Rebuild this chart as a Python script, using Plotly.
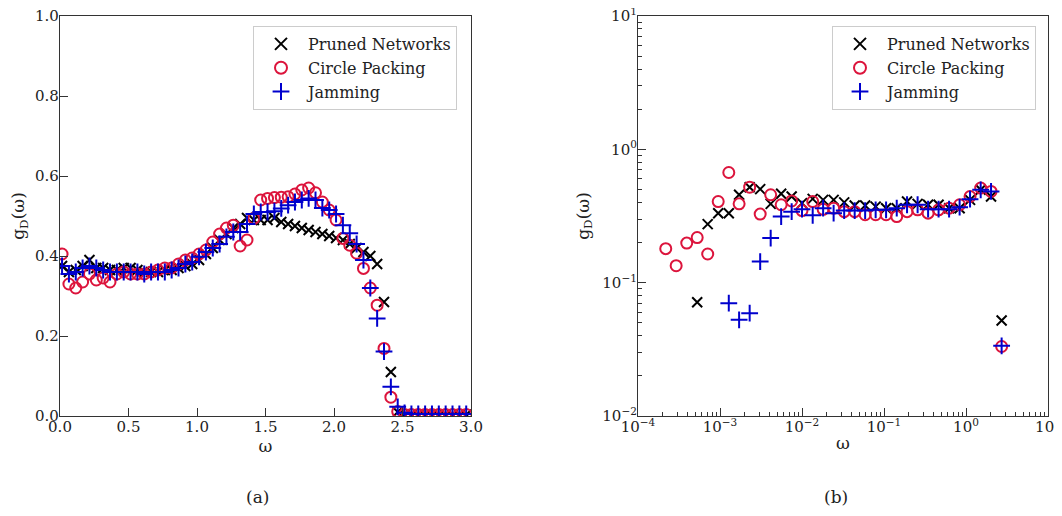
import plotly.graph_objects as go

# ---------------- data: panel (a), linear scale ----------------
omega_a = [0.015, 0.065, 0.115, 0.165, 0.215, 0.265, 0.315, 0.365, 0.415, 0.465,
           0.515, 0.565, 0.615, 0.665, 0.715, 0.765, 0.815, 0.865, 0.915, 0.965,
           1.015, 1.065, 1.115, 1.165, 1.215, 1.265, 1.315, 1.365, 1.415, 1.465,
           1.515, 1.565, 1.615, 1.665, 1.715, 1.765, 1.815, 1.865, 1.915, 1.965,
           2.015, 2.065, 2.115, 2.165, 2.215, 2.265, 2.315, 2.365, 2.415, 2.465,
           2.515, 2.565, 2.615, 2.665, 2.715, 2.765, 2.815, 2.865, 2.915, 2.965]

pruned_a = [0.375, 0.36, 0.365, 0.375, 0.39, 0.37, 0.37, 0.365, 0.365, 0.37,
            0.37, 0.365, 0.36, 0.36, 0.36, 0.365, 0.365, 0.37, 0.375, 0.38,
            0.39, 0.405, 0.42, 0.44, 0.455, 0.47, 0.48, 0.495, 0.49, 0.49,
            0.49, 0.495, 0.485, 0.48, 0.475, 0.47, 0.465, 0.46, 0.455, 0.45,
            0.445, 0.44, 0.43, 0.42, 0.41, 0.40, 0.38, 0.285, 0.11, 0.01,
            0.003, 0.003, 0.003, 0.003, 0.003, 0.003, 0.003, 0.003, 0.003, 0.003]

circle_a = [0.405, 0.33, 0.32, 0.335, 0.355, 0.34, 0.345, 0.335, 0.355, 0.36,
            0.355, 0.355, 0.355, 0.36, 0.365, 0.37, 0.37, 0.38, 0.39, 0.395,
            0.405, 0.415, 0.435, 0.455, 0.47, 0.477, 0.425, 0.44, 0.494, 0.54,
            0.544, 0.546, 0.547, 0.548, 0.555, 0.565, 0.57, 0.558, 0.535, 0.515,
            0.49, 0.444, 0.427, 0.407, 0.369, 0.32, 0.277, 0.169, 0.047, 0.011,
            0.004, 0.004, 0.004, 0.004, 0.004, 0.004, 0.004, 0.004, 0.004, 0.004]

jamming_a = [0.375, 0.355, 0.36, 0.37, 0.375, 0.37, 0.365, 0.36, 0.36, 0.36,
             0.36, 0.36, 0.355, 0.36, 0.36, 0.36, 0.365, 0.37, 0.38, 0.385,
             0.398, 0.41, 0.42, 0.43, 0.448, 0.46, 0.46, 0.48, 0.505, 0.51,
             0.51, 0.512, 0.519, 0.527, 0.535, 0.54, 0.544, 0.54, 0.52, 0.515,
             0.505, 0.477, 0.457, 0.43, 0.39, 0.32, 0.244, 0.161, 0.073, 0.023,
             0.008, 0.005, 0.005, 0.005, 0.005, 0.005, 0.005, 0.005, 0.005, 0.005]

# ---------------- data: panel (b), log-log scale ----------------
omega_b = [2.18e-4, 2.92e-4, 3.93e-4, 5.27e-4, 7.08e-4, 9.51e-4, 1.28e-3, 1.71e-3,
           2.30e-3, 3.09e-3, 4.15e-3, 5.57e-3, 7.48e-3, 1.00e-2, 1.35e-2, 1.81e-2,
           2.43e-2, 3.27e-2, 4.39e-2, 5.89e-2, 7.91e-2, 0.106, 0.143, 0.191,
           0.257, 0.345, 0.463, 0.622, 0.836, 1.12, 1.51, 2.02, 2.72]

pruned_b = [None, None, None, 0.0714, 0.275, 0.332, 0.332, 0.456,
            0.52, 0.503, 0.39, 0.464, 0.443, 0.395, 0.425, 0.418,
            0.418, 0.40, 0.379, 0.379, 0.372, 0.362, 0.362, 0.406,
            0.39, 0.384, 0.384, 0.362, 0.362, 0.418, 0.497, 0.443, 0.052]

circle_b = [0.18, 0.134, 0.198, 0.218, 0.164, 0.406, 0.67, 0.39,
            0.52, 0.327, 0.456, 0.384, 0.41, 0.347, 0.406, 0.355,
            0.362, 0.341, 0.341, 0.323, 0.323, 0.323, 0.313, 0.341,
            0.352, 0.332, 0.352, 0.362, 0.384, 0.443, 0.512, 0.483, 0.0332]

jamming_b = [None, None, None, None, None, None, 0.0702, 0.0526,
             0.059, 0.144, 0.216, 0.313, 0.341, 0.356, 0.32, 0.362,
             0.332, 0.347, 0.347, 0.347, 0.352, 0.352, 0.362, 0.384,
             0.384, 0.356, 0.356, 0.356, 0.368, 0.423, 0.497, 0.483, 0.0336]

series_names = ["Pruned Networks", "Circle Packing", "Jamming"]
log_ticks_x = ["10<sup>−4</sup>", "10<sup>−3</sup>", "10<sup>−2</sup>",
               "10<sup>−1</sup>", "10<sup>0</sup>", "10<sup>1</sup>"]
log_ticks_y = ["10<sup>−2</sup>", "10<sup>−1</sup>", "10<sup>0</sup>", "10<sup>1</sup>"]

# ---------------- styling ----------------
FONT = "DejaVu Serif"
BLACK = "#000000"
RED = "#DC143C"
BLUE = "#0000CD"

styles = [
    dict(symbol="x-thin", size=10, line=dict(color=BLACK, width=2), color=BLACK),
    dict(symbol="circle-open", size=11, line=dict(color=RED, width=2), color=RED),
    dict(symbol="cross-thin", size=12, line=dict(color=BLUE, width=2), color=BLUE),
]

fig = go.Figure()

for name, ys, st in zip(series_names, [pruned_a, circle_a, jamming_a], styles):
    fig.add_trace(go.Scatter(x=omega_a, y=ys, mode="markers", name=name,
                             marker=st, xaxis="x", yaxis="y", legend="legend"))

for name, ys, st in zip(series_names, [pruned_b, circle_b, jamming_b], styles):
    fig.add_trace(go.Scatter(x=omega_b, y=ys, mode="markers", name=name,
                             marker=st, xaxis="x2", yaxis="y2", legend="legend2"))

# page body has an 8px margin; the figure is sized to fit inside it
OFF = 8
W, H = 1046, 500
ml, mt = 60 - OFF, 16 - OFF
mb = H - (416 - OFF)
mr = W - (1048 - OFF)
pw = W - ml - mr
ph = H - mt - mb

axis_common = dict(showline=True, mirror=True, linecolor="#333333", linewidth=1.2,
                   ticks="inside", ticklen=8, tickwidth=1.2, tickcolor="#333333",
                   showgrid=False, zeroline=False, automargin=False,
                   ticklabelstandoff=-3, ticklabeloverflow="allow",
                   tickfont=dict(family=FONT, size=15, color="#222222"))

minor_x = [m * 10.0 ** e for e in range(-4, 1) for m in range(2, 10)]
minor_y = [m * 10.0 ** e for e in range(-2, 1) for m in range(2, 10)]

legend_common = dict(font=dict(family=FONT, size=16, color="#222222"),
                     bgcolor="rgba(255,255,255,0.9)", bordercolor="#cccccc",
                     borderwidth=1, xanchor="left", yanchor="top",
                     itemsizing="constant", itemwidth=44)

def px_x(p):
    return (p - OFF - ml) / pw

def px_y(p):
    return (H - mb - (p - OFF)) / ph

fig.update_layout(
    width=W, height=H, template="none",
    paper_bgcolor="white", plot_bgcolor="white",
    margin=dict(l=ml, r=mr, t=mt, b=mb),
    font=dict(family=FONT, color="#222222"),
    xaxis=dict(domain=[0, px_x(471)], range=[0, 3.0], dtick=0.5, tick0=0,
               tickformat=".1f", anchor="y",
               title=dict(text="ω", font=dict(family=FONT, size=17), standoff=2),
               **axis_common),
    yaxis=dict(domain=[0, 1], range=[0, 1.0], dtick=0.2, tick0=0,
               tickformat=".1f", anchor="x",
               title=dict(text="g<sub>D</sub>(ω)", font=dict(family=FONT, size=17), standoff=8),
               **axis_common),
    xaxis2=dict(domain=[px_x(638), 1.0], type="log",
                range=[-4, 1], tickmode="array",
                tickvals=[1e-4, 1e-3, 1e-2, 1e-1, 1e0, 1e1], ticktext=log_ticks_x,
                minor=dict(tickmode="array", tickvals=minor_x, ticks="inside",
                           ticklen=4, tickwidth=1, tickcolor="#333333", showgrid=False),
                anchor="y2",
                title=dict(text="ω", font=dict(family=FONT, size=17), standoff=2),
                **axis_common),
    yaxis2=dict(domain=[0, 1], type="log", range=[-2, 1], tickmode="array",
                tickvals=[1e-2, 1e-1, 1e0, 1e1], ticktext=log_ticks_y,
                minor=dict(tickmode="array", tickvals=minor_y, ticks="inside",
                           ticklen=4, tickwidth=1, tickcolor="#333333", showgrid=False),
                anchor="x2",
                title=dict(text="g<sub>D</sub>(ω)", font=dict(family=FONT, size=17), standoff=8),
                **axis_common),
    legend=dict(x=px_x(253), y=px_y(26), **legend_common),
    legend2=dict(x=px_x(832), y=px_y(26), **legend_common),
    showlegend=True,
    annotations=[
        dict(text="(a)", x=px_x(257), y=px_y(497), xref="paper", yref="paper",
             xanchor="center", yanchor="middle",
             showarrow=False, font=dict(family=FONT, size=17, color="#222222")),
        dict(text="(b)", x=px_x(836), y=px_y(497), xref="paper", yref="paper",
             xanchor="center", yanchor="middle",
             showarrow=False, font=dict(family=FONT, size=17, color="#222222")),
    ],
)

fig.write_html("out.html")
